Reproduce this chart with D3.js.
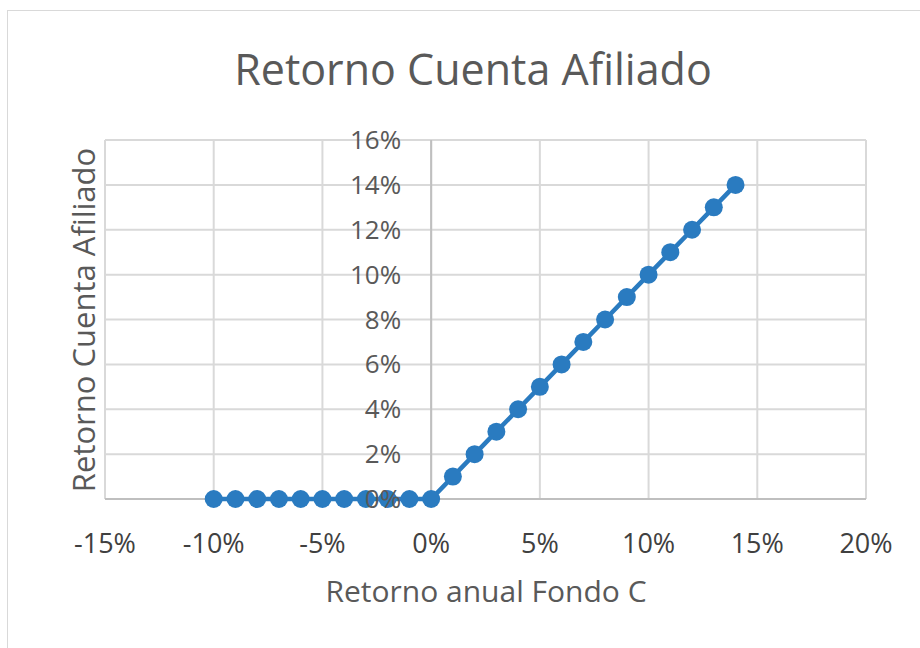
<!DOCTYPE html>
<html>
<head>
<meta charset="utf-8">
<script src="https://cdn.jsdelivr.net/npm/d3@7"></script>
<style>
  body { margin: 0; background: #fff; }
  text { font-family: "Open Sans", sans-serif; }
</style>
</head>
<body>
<script>
// retorno anual fondo C vs retorno cuenta afiliado
const fondoC = [-0.10, -0.09, -0.08, -0.07, -0.06, -0.05, -0.04, -0.03, -0.02, -0.01, 0,
  0.01, 0.02, 0.03, 0.04, 0.05, 0.06, 0.07, 0.08, 0.09, 0.10, 0.11, 0.12, 0.13, 0.14];
const cuenta = [0, 0, 0, 0, 0, 0, 0, 0, 0, 0, 0,
  0.01, 0.02, 0.03, 0.04, 0.05, 0.06, 0.07, 0.08, 0.09, 0.10, 0.11, 0.12, 0.13, 0.14];
const xTicks = [-0.15, -0.10, -0.05, 0, 0.05, 0.10, 0.15, 0.20];
const yTicks = [0, 0.02, 0.04, 0.06, 0.08, 0.10, 0.12, 0.14, 0.16];

const W = 920, H = 648;
const plot = { left: 105, right: 866, top: 140, bottom: 499 };

const svg = d3.select("body").append("svg")
  .attr("width", W)
  .attr("height", H);

// chart frame
svg.append("rect")
  .attr("x", 7.5).attr("y", 10.5)
  .attr("width", W).attr("height", H)
  .attr("fill", "#fff")
  .attr("stroke", "#d9d9d9");

const x = d3.scaleLinear().domain([-0.15, 0.20]).range([plot.left, plot.right]);
const y = d3.scaleLinear().domain([0, 0.16]).range([plot.bottom, plot.top]);
const pct = d => d3.format(".0%")(d).replace("\u2212", "-");

// gridlines
svg.append("g")
  .selectAll("line").data(yTicks).join("line")
  .attr("x1", plot.left).attr("x2", plot.right)
  .attr("y1", d => y(d)).attr("y2", d => y(d))
  .attr("stroke", "#d9d9d9").attr("stroke-width", 2);

svg.append("g")
  .selectAll("line").data(xTicks).join("line")
  .attr("x1", d => x(d)).attr("x2", d => x(d))
  .attr("y1", plot.top).attr("y2", plot.bottom)
  .attr("stroke", "#d9d9d9").attr("stroke-width", 2);

// axes lines
svg.append("line")
  .attr("x1", plot.left).attr("x2", plot.right)
  .attr("y1", y(0)).attr("y2", y(0))
  .attr("stroke", "#bfbfbf").attr("stroke-width", 2);
svg.append("line")
  .attr("x1", x(0)).attr("x2", x(0))
  .attr("y1", plot.top).attr("y2", plot.bottom)
  .attr("stroke", "#bfbfbf").attr("stroke-width", 2);

// x tick labels
svg.append("g")
  .selectAll("text").data(xTicks).join("text")
  .attr("x", d => x(d)).attr("y", 553)
  .attr("text-anchor", "middle")
  .attr("font-size", 27)
  .attr("fill", "#404040")
  .text(d => pct(d));

// series
const pts = fondoC.map((v, i) => ({ x: v, y: cuenta[i] }));
const line = d3.line().x(d => x(d.x)).y(d => y(d.y));

svg.append("path")
  .datum(pts)
  .attr("d", line)
  .attr("fill", "none")
  .attr("stroke", "#2a7bc0")
  .attr("stroke-width", 4.5);

svg.append("g")
  .selectAll("circle").data(pts).join("circle")
  .attr("cx", d => x(d.x)).attr("cy", d => y(d.y))
  .attr("r", 9)
  .attr("fill", "#2a7bc0");

// y tick labels drawn over the markers
svg.append("g")
  .selectAll("text").data(yTicks).join("text")
  .attr("x", x(0) - 30).attr("y", d => y(d) + 9)
  .attr("text-anchor", "end")
  .attr("font-size", 26)
  .attr("fill", "#595959")
  .text(d => pct(d));

// titles
svg.append("text")
  .attr("x", 473).attr("y", 85)
  .attr("text-anchor", "middle")
  .attr("font-size", 43)
  .attr("fill", "#595959")
  .text("Retorno Cuenta Afiliado");

svg.append("text")
  .attr("x", 486).attr("y", 602)
  .attr("text-anchor", "middle")
  .attr("font-size", 30)
  .attr("fill", "#595959")
  .text("Retorno anual Fondo C");

svg.append("text")
  .attr("transform", "translate(95,320) rotate(-90)")
  .attr("text-anchor", "middle")
  .attr("font-size", 31)
  .attr("fill", "#595959")
  .text("Retorno Cuenta Afiliado");
</script>
</body>
</html>
